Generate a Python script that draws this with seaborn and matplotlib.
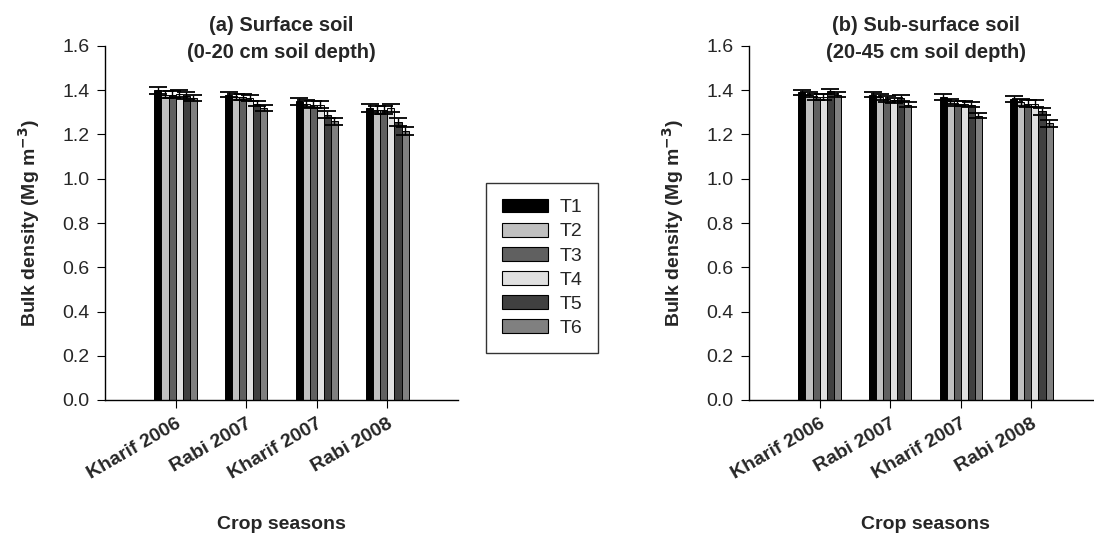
import matplotlib
matplotlib.use("Agg")
import matplotlib.pyplot as plt
import seaborn as sns
import pandas as pd
import numpy as np
from matplotlib.patches import Patch
from matplotlib.container import BarContainer

seasons = ["Kharif 2006", "Rabi 2007", "Kharif 2007", "Rabi 2008"]
treatments = ["T1", "T2", "T3", "T4", "T5", "T6"]

# surface soil (0-20 cm): rows = treatments, cols = seasons
surface_T1 = [1.40, 1.38, 1.35, 1.32]
surface_T2 = [1.38, 1.37, 1.34, 1.31]
surface_T3 = [1.38, 1.37, 1.335, 1.31]
surface_T4 = [1.385, 1.365, 1.335, 1.32]
surface_T5 = [1.375, 1.34, 1.29, 1.255]
surface_T6 = [1.365, 1.32, 1.26, 1.215]
surface_err = [0.015, 0.012, 0.015, 0.018]

# sub-surface soil (20-45 cm)
sub_T1 = [1.39, 1.38, 1.37, 1.36]
sub_T2 = [1.38, 1.37, 1.35, 1.345]
sub_T3 = [1.37, 1.36, 1.34, 1.34]
sub_T4 = [1.37, 1.355, 1.34, 1.34]
sub_T5 = [1.395, 1.365, 1.335, 1.305]
sub_T6 = [1.38, 1.335, 1.285, 1.25]
sub_err = [0.012, 0.012, 0.012, 0.015]

colors = ["#000000", "#c0c0c0", "#606060", "#e0e0e0", "#404040", "#808080"]

def make_df(series):
    rows = []
    for t, vals in zip(treatments, series):
        for s, v in zip(seasons, vals):
            rows.append({"season": s, "treatment": t, "bd": v})
    return pd.DataFrame(rows)

df_a = make_df([surface_T1, surface_T2, surface_T3, surface_T4, surface_T5, surface_T6])
df_b = make_df([sub_T1, sub_T2, sub_T3, sub_T4, sub_T5, sub_T6])

sns.set_style("white")
plt.rcParams['font.family'] = ['Liberation Sans', 'DejaVu Sans']

W, H = 1094, 533
fig = plt.figure(figsize=(W / 100, H / 100), dpi=100)
ax1 = fig.add_axes([105 / W, 1 - 400 / H, 353 / W, 354 / H])
ax2 = fig.add_axes([749 / W, 1 - 400 / H, 353 / W, 354 / H])

panels = [(ax1, df_a, surface_err, "(a) Surface soil\n(0-20 cm soil depth)"),
          (ax2, df_b, sub_err, "(b) Sub-surface soil\n(20-45 cm soil depth)")]

for ax, df, err, title in panels:
    sns.barplot(data=df, x="season", y="bd", hue="treatment", order=seasons,
                hue_order=treatments, palette=colors, width=0.6, ax=ax,
                edgecolor="black", linewidth=0.7, errorbar=None, legend=False,
                saturation=1)
    bars = [c for c in ax.containers if isinstance(c, BarContainer)]
    for cont in bars:
        xs = [p.get_x() + p.get_width() / 2 for p in cont.patches]
        ys = [p.get_height() for p in cont.patches]
        ax.errorbar(xs, ys, yerr=err, fmt="none", ecolor="black",
                    elinewidth=1.0, capsize=6.5, capthick=1.3)
    ax.set_xlim(-1, 4)
    ax.set_ylim(0, 1.6)
    ax.set_yticks(np.arange(0, 1.61, 0.2))
    ax.set_yticklabels([f"{v:.1f}" for v in np.arange(0, 1.61, 0.2)], fontsize=14)
    ax.set_xticks(range(len(seasons)))
    ax.set_xticklabels(seasons, rotation=30, ha="right", rotation_mode="anchor",
                       fontsize=14, fontweight="bold")
    ax.tick_params(axis="both", direction="out", length=6, width=0.8,
                   bottom=True, left=True, color="black", pad=5)
    for sp in ["top", "right"]:
        ax.spines[sp].set_visible(False)
    for sp in ["left", "bottom"]:
        ax.spines[sp].set_color("black")
        ax.spines[sp].set_linewidth(1.0)
    ax.set_xlabel("")
    ax.set_ylabel("Bulk density (Mg m$^{\\mathbf{-3}}$)", fontsize=14,
                  fontweight="bold", labelpad=15)
    ax.text(0.5, 1.02, title, transform=ax.transAxes, ha="center", va="center",
            fontsize=14.5, fontweight="bold", linespacing=1.5)
    bb = ax.get_position()
    fig.text(bb.x0 + 176 / W, 1 - 529 / H, "Crop seasons", ha="center",
             va="baseline", fontsize=14, fontweight="bold")

handles = [Patch(facecolor=c, edgecolor="black", linewidth=0.8, label=t)
           for c, t in zip(colors, treatments)]
leg = fig.legend(handles=handles, loc="upper left", bbox_to_anchor=(486 / W, 1 - 183 / H),
                 frameon=True, fancybox=False, edgecolor="black", fontsize=14,
                 handlelength=2.4, handleheight=0.72, borderpad=0.8, labelspacing=0.33,
                 handletextpad=0.6, borderaxespad=0)
leg.get_frame().set_linewidth(1.0)

fig.savefig("out.png", dpi=100)
